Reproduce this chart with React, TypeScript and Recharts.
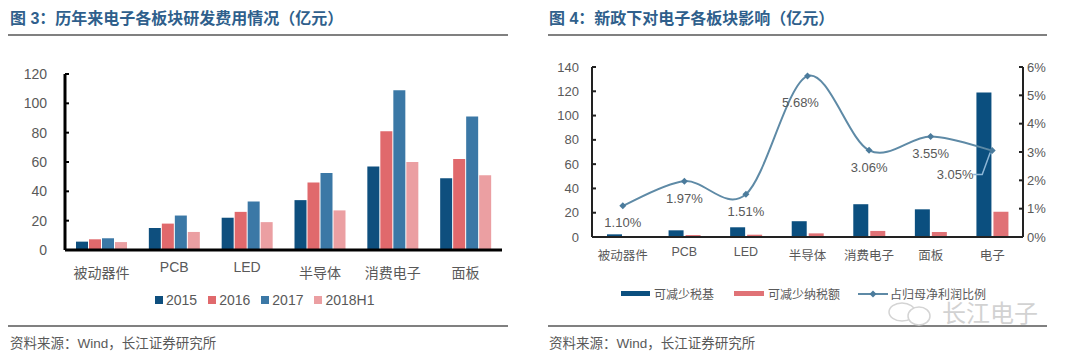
import React from 'react';
import { BarChart, Bar, ComposedChart, Line, XAxis, YAxis, LabelList } from 'recharts';

// 图3 研发费用 (亿元)
const rdCategories = ['被动器件', 'PCB', 'LED', '半导体', '消费电子', '面板'];
const rd2015 = [5.7, 15, 22, 34, 57, 49];
const rd2016 = [7.3, 18, 26, 46, 81, 62];
const rd2017 = [8, 23.5, 33, 52.5, 109, 91];
const rd2018H1 = [5.4, 12.3, 19, 27, 60, 51];
const rdTicks = [0, 20, 40, 60, 80, 100, 120];

// 图4 新政影响
const policyCategories = ['被动器件', 'PCB', 'LED', '半导体', '消费电子', '面板', '电子'];
const taxBase = [2.2, 5.5, 8, 13, 27, 22.8, 119];
const taxCut = [0.8, 1.6, 1.9, 3, 5, 4.1, 20.8];
const profitRatio = [1.1, 1.97, 1.51, 5.68, 3.06, 3.55, 3.05];
const leftTicks = [0, 20, 40, 60, 80, 100, 120, 140];
const rightTicks = [0, 1, 2, 3, 4, 5, 6];

const rdData = rdCategories.map((name, i) => ({
  name, y2015: rd2015[i], y2016: rd2016[i], y2017: rd2017[i], y2018: rd2018H1[i],
}));
const policyData = policyCategories.map((name, i) => ({
  name, base: taxBase[i], cut: taxCut[i], ratio: profitRatio[i],
}));

const FONT = "'Liberation Sans', 'Noto Sans CJK SC', sans-serif";
const GREY = '#595959';
const TITLE = '#2f5f8c';

// smooth line like Excel (catmull-rom)
const smoothCurve = (context: any) => {
  let pts: number[][] = [];
  return {
    areaStart() {},
    areaEnd() {},
    lineStart() { pts = []; },
    point(x: number, y: number) { pts.push([+x, +y]); },
    lineEnd() {
      if (!pts.length) return;
      context.moveTo(pts[0][0], pts[0][1]);
      for (let i = 0; i < pts.length - 1; i++) {
        const p0 = pts[i - 1] || pts[i];
        const p1 = pts[i];
        const p2 = pts[i + 1];
        const p3 = pts[i + 2] || p2;
        context.bezierCurveTo(
          p1[0] + (p2[0] - p0[0]) / 6, p1[1] + (p2[1] - p0[1]) / 6,
          p2[0] - (p3[0] - p1[0]) / 6, p2[1] - (p3[1] - p1[1]) / 6,
          p2[0], p2[1]
        );
      }
    },
  };
};

const CatTick = ({ x, y, payload, cn, en, size }: any) => {
  const latin = /^[A-Za-z]+$/.test(payload.value);
  return (
    <text x={x} y={y + (latin ? en : cn)} textAnchor="middle" dominantBaseline="central"
      fill={GREY} fontSize={size} fontFamily={FONT}>
      {payload.value}
    </text>
  );
};

const Diamond = ({ cx, cy }: any) => (
  <path d={`M${cx},${cy - 3.5} L${cx + 3.5},${cy} L${cx},${cy + 3.5} L${cx - 3.5},${cy} Z`} fill="#4b7b9c" />
);

const RatioLabel = ({ x, y, value, index }: any) => {
  const text = `${value.toFixed(2)}%`;
  if (index === profitRatio.length - 1) {
    const lx = x - 37;
    const ly = y + 24;
    return (
      <g>
        <polyline points={`${lx + 18},${ly} ${x - 10},${ly} ${x - 2},${y + 2}`} fill="none" stroke="#8db6d6" strokeWidth={1.5} />
        <text x={lx} y={ly} textAnchor="middle" dominantBaseline="central" fill={GREY} fontSize={13} fontFamily={FONT}>{text}</text>
      </g>
    );
  }
  const peak = index === 3;
  return (
    <text x={x + (peak ? -7 : 0)} y={y + (peak ? 26 : 17)} textAnchor="middle" dominantBaseline="central"
      fill={GREY} fontSize={13} fontFamily={FONT}>{text}</text>
  );
};

const rdLegend = [
  { name: '2015', color: '#0e4f7e' },
  { name: '2016', color: '#e0696c' },
  { name: '2017', color: '#3b78a6' },
  { name: '2018H1', color: '#eb9fa2' },
];

const Rule = ({ left, top, width }: any) => (
  <div style={{ position: 'absolute', left, top, width, height: 2, background: '#808080' }} />
);

const Txt = ({ left, top, size, color, weight, children }: any) => (
  <div style={{ position: 'absolute', left, top, fontSize: size, color, fontWeight: weight || 'normal', fontFamily: FONT, whiteSpace: 'nowrap', lineHeight: 1 }}>
    {children}
  </div>
);

export default function App() {
  return (
    <div style={{ position: 'absolute', left: 0, top: 0, width: 1080, height: 358, background: '#fff', overflow: 'hidden' }}>
      {/* headers and footers */}
      <Txt left={10} top={11} size={16} color={TITLE} weight="bold">图 3：历年来电子各板块研发费用情况（亿元）</Txt>
      <Txt left={549} top={11} size={16} color={TITLE} weight="bold">图 4：新政下对电子各板块影响（亿元）</Txt>
      <Rule left={8} top={34} width={500} />
      <Rule left={548} top={34} width={499} />
      <Rule left={8} top={325} width={500} />
      <Rule left={548} top={325} width={499} />
      <Txt left={10} top={337} size={13.5} color={GREY}>资料来源：Wind，长江证券研究所</Txt>
      <Txt left={549} top={337} size={13.5} color={GREY}>资料来源：Wind，长江证券研究所</Txt>

      {/* 图3 */}
      <div style={{ position: 'absolute', left: 0, top: 60 }}>
        <BarChart width={520} height={230} data={rdData} margin={{ top: 14, right: 18, bottom: 0, left: 0 }}
          barGap={1} barCategoryGap="16%">
          <XAxis dataKey="name" height={40} axisLine={{ stroke: '#000', strokeWidth: 3 }} tickLine={false}
            tickSize={0} tickMargin={0} interval={0} tick={<CatTick cn={23} en={17} size={14} />} />
          <YAxis width={65} domain={[0, 120]} ticks={rdTicks} interval={0}
            axisLine={{ stroke: '#000', strokeWidth: 3 }} tickLine={{ stroke: '#000', strokeWidth: 2 }}
            tickSize={-4} tickMargin={22} tick={{ fill: GREY, fontSize: 14, fontFamily: FONT }} />
          <Bar dataKey="y2015" fill="#0e4f7e" barSize={12} isAnimationActive={false} />
          <Bar dataKey="y2016" fill="#e0696c" barSize={12} isAnimationActive={false} />
          <Bar dataKey="y2017" fill="#3b78a6" barSize={12} isAnimationActive={false} />
          <Bar dataKey="y2018" fill="#eb9fa2" barSize={12} isAnimationActive={false} />
        </BarChart>
      </div>
      <div style={{ position: 'absolute', left: 155, top: 292, display: 'flex', gap: 11, fontFamily: FONT, fontSize: 14, color: GREY }}>
        {rdLegend.map(item => (
          <div key={item.name} style={{ display: 'flex', alignItems: 'center', gap: 3 }}>
            <div style={{ width: 8, height: 8, background: item.color }} />
            <span>{item.name}</span>
          </div>
        ))}
      </div>

      {/* 图4 */}
      <div style={{ position: 'absolute', left: 540, top: 50 }}>
        <ComposedChart width={540} height={220} data={policyData} margin={{ top: 17, right: 0, bottom: 0, left: 0 }}
          barGap={2} barCategoryGap="24%">
          <XAxis dataKey="name" height={33} axisLine={{ stroke: '#222', strokeWidth: 2 }} tickLine={false}
            tickSize={0} tickMargin={0} interval={0} tick={<CatTick cn={19} en={15} size={12.5} />} />
          <YAxis yAxisId="left" width={52} domain={[0, 140]} ticks={leftTicks} interval={0}
            axisLine={{ stroke: '#222', strokeWidth: 2 }} tickLine={{ stroke: '#222', strokeWidth: 2 }}
            tickSize={-4} tickMargin={17} tick={{ fill: GREY, fontSize: 13, fontFamily: FONT }} />
          <YAxis yAxisId="right" orientation="right" width={57} domain={[0, 6]} ticks={rightTicks} interval={0}
            tickFormatter={(v: number) => `${v}%`}
            axisLine={{ stroke: '#222', strokeWidth: 2 }} tickLine={{ stroke: '#222', strokeWidth: 2 }}
            tickSize={-4} tickMargin={8} tick={{ fill: GREY, fontSize: 13, fontFamily: FONT }} />
          <Bar yAxisId="left" dataKey="base" fill="#0b4f7f" barSize={15} isAnimationActive={false} />
          <Bar yAxisId="left" dataKey="cut" fill="#e07276" barSize={15} isAnimationActive={false} />
          <Line yAxisId="right" dataKey="ratio" type={smoothCurve as any} stroke="#5e8aa6" strokeWidth={2}
            dot={<Diamond />} activeDot={false} isAnimationActive={false}>
            <LabelList dataKey="ratio" content={<RatioLabel />} />
          </Line>
        </ComposedChart>
      </div>
      <div style={{ position: 'absolute', left: 621, top: 285, display: 'flex', alignItems: 'center', fontFamily: FONT, fontSize: 12, color: GREY }}>
        <div style={{ width: 29, height: 5, background: '#0b4f7f', marginRight: 4 }} />
        <span style={{ marginRight: 20 }}>可减少税基</span>
        <div style={{ width: 30, height: 5, background: '#e07276', marginRight: 4 }} />
        <span style={{ marginRight: 18 }}>可减少纳税额</span>
        <svg width={30} height={10} style={{ marginRight: 2 }}>
          <line x1={0} y1={5} x2={30} y2={5} stroke="#5e8aa6" strokeWidth={2} />
          <path d="M15,1.5 L18.5,5 L15,8.5 L11.5,5 Z" fill="#4b7b9c" />
        </svg>
        <span>占归母净利润比例</span>
      </div>

      {/* watermark */}
      <svg style={{ position: 'absolute', left: 886, top: 301 }} width={54} height={26}>
        <ellipse cx={16} cy={11} rx={13} ry={9} fill="none" stroke="#d4d4d4" strokeWidth={1.5} />
        <ellipse cx={33} cy={15} rx={11} ry={9} fill="#fff" stroke="#d4d4d4" strokeWidth={1.5} />
      </svg>
      <Txt left={942} top={302} size={24} color="#d2d2d2">长江电子</Txt>
    </div>
  );
}
